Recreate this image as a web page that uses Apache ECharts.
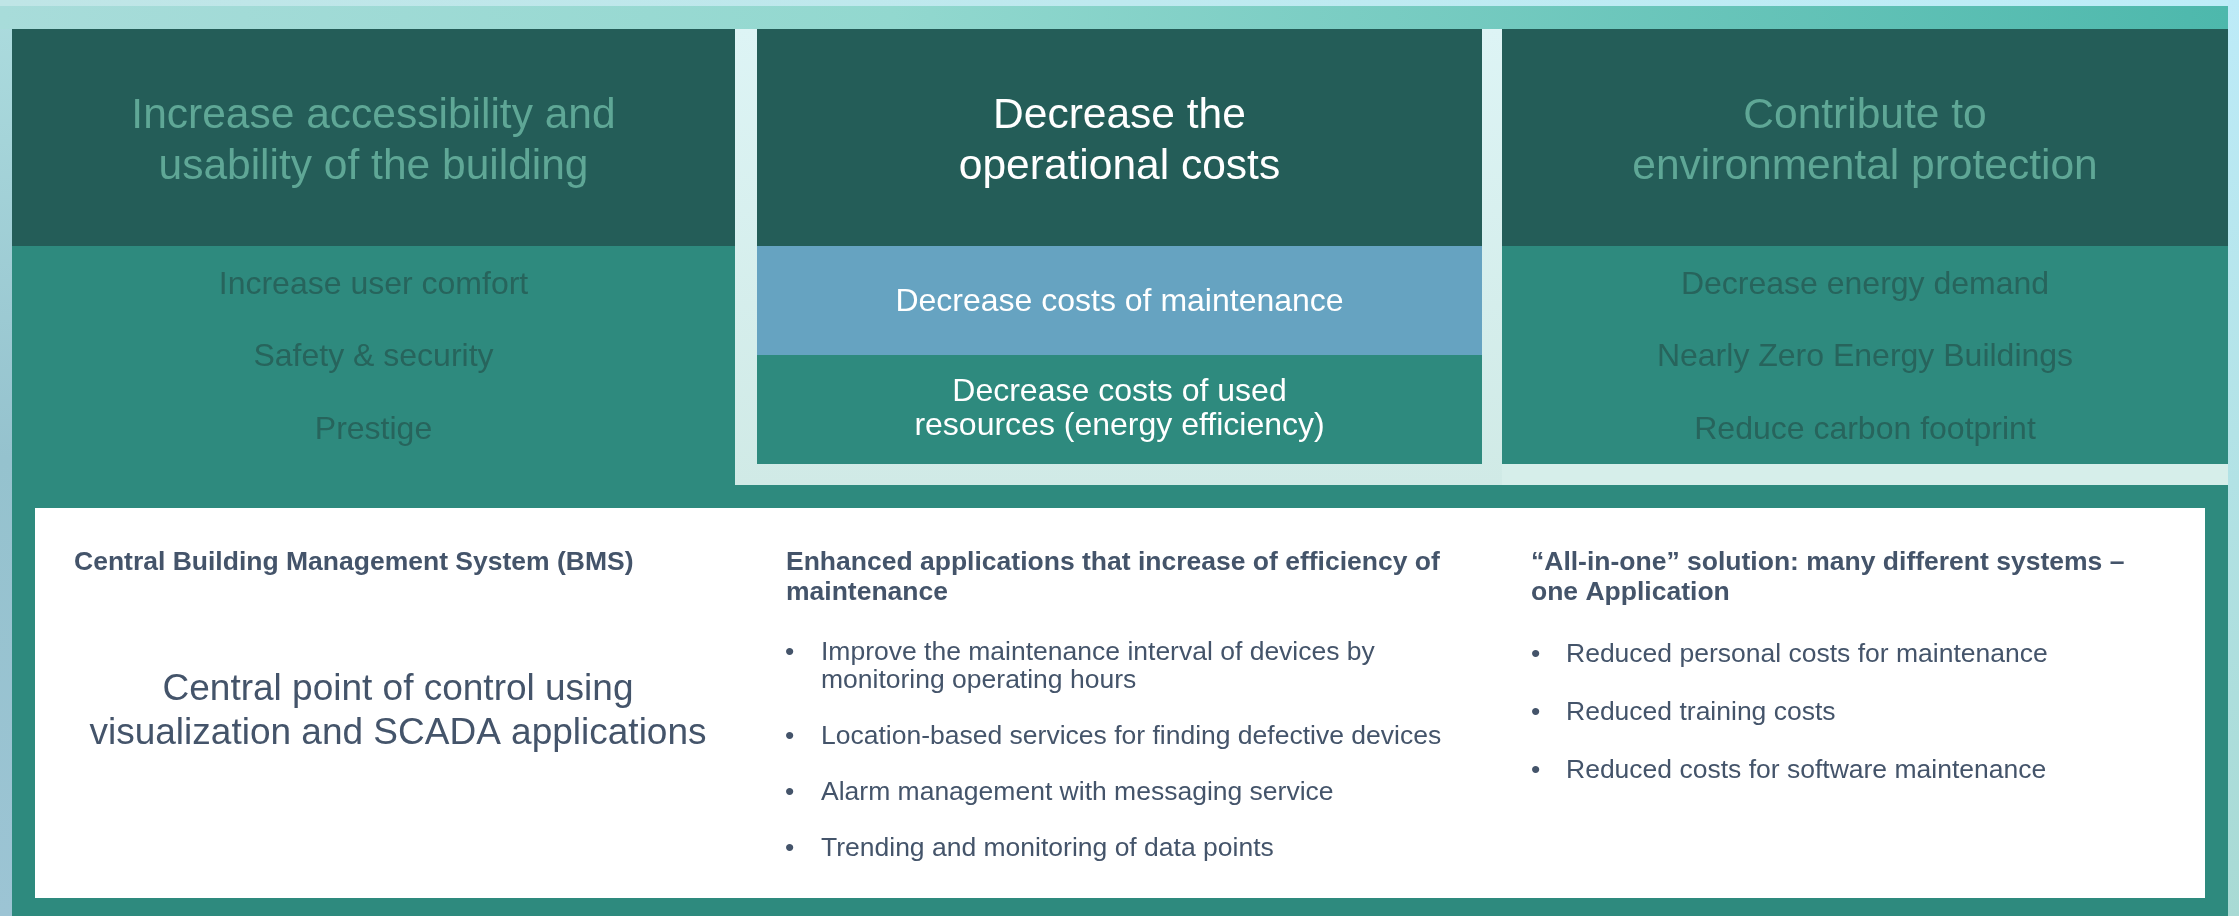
<!DOCTYPE html>
<html>
<head>
<meta charset="utf-8">
<script src="https://cdn.jsdelivr.net/npm/echarts@6/dist/echarts.min.js"></script>
<style>
html,body{margin:0;padding:0;background:#fff;}
#main{width:2239px;height:916px;}
</style>
</head>
<body>
<div id="main"></div>
<script>
// ---- content ----
const goalTitles = [
  'Increase accessibility and\nusability of the building',
  'Decrease the\noperational costs',
  'Contribute to\nenvironmental protection'
];
const leftItems = ['Increase user comfort', 'Safety & security', 'Prestige'];
const middleItems = ['Decrease costs of maintenance', 'Decrease costs of used\nresources (energy efficiency)'];
const rightItems = ['Decrease energy demand', 'Nearly Zero Energy Buildings', 'Reduce carbon footprint'];

const bmsTitle = 'Central Building Management System (BMS)';
const bmsText = 'Central point of control using\nvisualization and SCADA applications';
const appsTitle = 'Enhanced applications that increase of efficiency of\nmaintenance';
const appsItems = [
  'Improve the maintenance interval of devices by\nmonitoring operating hours',
  'Location-based services for finding defective devices',
  'Alarm management with messaging service',
  'Trending and monitoring of data points'
];
const allInOneTitle = '\u201CAll-in-one\u201D solution: many different systems \u2013\none Application';
const allInOneItems = [
  'Reduced personal costs for maintenance',
  'Reduced training costs',
  'Reduced costs for software maintenance'
];

// ---- style ----
const FONT = '"Liberation Sans", Arial, "DejaVu Sans", sans-serif';
const C = {
  dark: '#245D58',
  teal: '#2E8A7E',
  blue: '#66A3C1',
  fadedTitle: '#5FA796',
  fadedItem: '#27645C',
  white: '#FFFFFF',
  slate: '#44546A'
};

function txt(x, y, text, size, color, opts) {
  opts = opts || {};
  const align = opts.align || 'center';
  const va = opts.va || 'middle';
  return {
    type: 'text',
    silent: true,
    style: {
      x: x, y: y, text: text,
      fontFamily: FONT, fontSize: size, fontWeight: opts.bold ? 'bold' : 'normal',
      fill: color,
      align: align, textAlign: align,
      verticalAlign: va, textVerticalAlign: va,
      lineHeight: opts.lh || Math.round(size * 1.2)
    }
  };
}
function rect(x, y, w, h, fill) {
  return { type: 'rect', silent: true, shape: { x: x, y: y, width: w, height: h }, style: { fill: fill } };
}

const els = [];
// background
els.push({
  type: 'rect', silent: true, shape: { x: 0, y: 0, width: 2239, height: 916 },
  style: { fill: new echarts.graphic.LinearGradient(0, 0, 1, 1, [
    { offset: 0, color: '#B6E0E4' }, { offset: 0.5, color: '#A9D9DE' }, { offset: 1, color: '#A4D8D2' }
  ]) }
});
els.push({
  type: 'rect', silent: true, shape: { x: 2228, y: 0, width: 11, height: 916 },
  style: { fill: new echarts.graphic.LinearGradient(0, 0, 0, 1, [
    { offset: 0, color: '#BDEBF8' }, { offset: 1, color: '#A8DAD4' }
  ]) }
});
els.push({
  type: 'rect', silent: true, shape: { x: 0, y: 0, width: 12, height: 916 },
  style: { fill: new echarts.graphic.LinearGradient(0, 0, 0, 1, [
    { offset: 0, color: '#ACDCDE' }, { offset: 0.5, color: '#95C2CE' }, { offset: 1, color: '#9CC4D4' }
  ]) }
});
// top light strip + teal band
els.push({
  type: 'rect', silent: true, shape: { x: 0, y: 0, width: 2228, height: 6 },
  style: { fill: new echarts.graphic.LinearGradient(0, 0, 1, 0, [
    { offset: 0, color: '#BFE5E6' }, { offset: 1, color: '#BDEDF8' }
  ]) }
});
els.push({
  type: 'rect', silent: true, shape: { x: 0, y: 6, width: 2228, height: 23 },
  style: { fill: new echarts.graphic.LinearGradient(0, 0, 1, 0, [
    { offset: 0, color: '#A8DCDA' }, { offset: 0.4, color: '#92D8CF' }, { offset: 1, color: '#4DB8AC' }
  ]) }
});

// bottom teal block + left body
els.push(rect(12, 246, 723, 670, C.teal));
els.push(rect(12, 485, 2216, 431, C.teal));
// middle light frame
els.push({
  type: 'rect', silent: true, shape: { x: 735, y: 29, width: 767, height: 456 },
  style: { fill: new echarts.graphic.LinearGradient(0, 0, 0, 1, [
    { offset: 0, color: '#DDF4F5' }, { offset: 1, color: '#D0EAE6' }
  ]) }
});
els.push(rect(1502, 464, 726, 21, '#D6EEEA'));

// panel geometry
const panels = [
  { x: 12, w: 723 },
  { x: 757, w: 725 },
  { x: 1502, w: 726 }
];
panels.forEach(function (p, i) {
  els.push(rect(p.x, 29, p.w, 217, C.dark));
  els.push(txt(p.x + p.w / 2, 142, goalTitles[i], 42.5, i === 1 ? C.white : C.fadedTitle, { lh: 51.5 }));
});
// left body
els.push(rect(12, 246, 723, 239, C.teal));
leftItems.forEach(function (s, i) {
  els.push(txt(373.5, 285 + i * 72.5, s, 32, C.fadedItem));
});
// middle body
els.push(rect(757, 246, 725, 109, C.blue));
els.push(rect(757, 355, 725, 109, C.teal));
els.push(txt(1119.5, 302, middleItems[0], 32, C.white));
els.push(txt(1119.5, 409, middleItems[1], 32, C.white, { lh: 34 }));
// right body
els.push(rect(1502, 246, 726, 218, C.teal));
rightItems.forEach(function (s, i) {
  els.push(txt(1865, 285 + i * 72.5, s, 32, C.fadedItem));
});

// white box
els.push(rect(35, 508, 2170, 390, C.white));
els.push(txt(74, 548, bmsTitle, 26.5, C.slate, { align: 'left', va: 'top', bold: true, lh: 30 }));
els.push(txt(398, 711.5, bmsText, 37, C.slate, { lh: 44 }));

els.push(txt(786, 548, appsTitle, 26.5, C.slate, { align: 'left', va: 'top', bold: true, lh: 30 }));
let y = 638;
appsItems.forEach(function (s) {
  const lines = s.split('\n').length;
  els.push(txt(785, y, '\u2022', 26.5, C.slate, { align: 'left', va: 'top', lh: 28.5 }));
  els.push(txt(821, y, s, 26.5, C.slate, { align: 'left', va: 'top', lh: 28.5 }));
  y += lines * 28.5 + 27.5;
});

els.push(txt(1531, 548, allInOneTitle, 26.5, C.slate, { align: 'left', va: 'top', bold: true, lh: 30 }));
y = 640;
allInOneItems.forEach(function (s) {
  const lines = s.split('\n').length;
  els.push(txt(1531, y, '\u2022', 26.5, C.slate, { align: 'left', va: 'top', lh: 28.5 }));
  els.push(txt(1566, y, s, 26.5, C.slate, { align: 'left', va: 'top', lh: 28.5 }));
  y += lines * 28.5 + 29.5;
});

const chart = echarts.init(document.getElementById('main'), null, { renderer: 'canvas' });
chart.setOption({
  animation: false,
  graphic: { elements: els }
});
</script>
</body>
</html>
